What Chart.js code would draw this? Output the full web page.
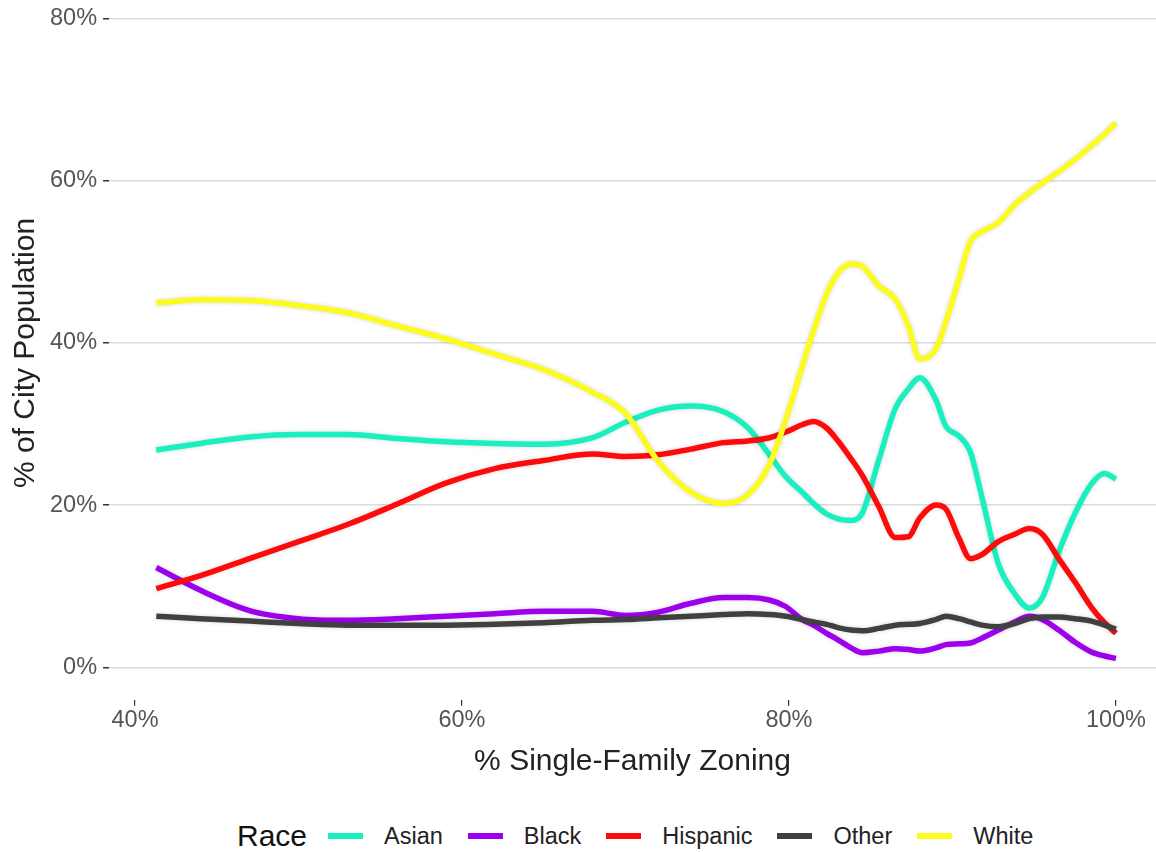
<!DOCTYPE html>
<html>
<head>
<meta charset="utf-8">
<script src="https://cdn.jsdelivr.net/npm/chart.js@4"></script>
<style>
  body { margin: 0; background: #fff; font-family: "Liberation Sans", Arial, sans-serif; overflow: hidden; }
  #wrap { position: absolute; left: 0; top: -14px; width: 1156px; height: 804px; }
  #legend { position: absolute; left: 237px; top: 818px; display: flex; align-items: center; height: 36px; }
  #legend .title { font-size: 30px; color: #111; margin-right: 21px; }
  #legend .item { display: flex; align-items: center; margin-right: 25px; font-size: 23.5px; color: #222; }
  #legend .swatch { width: 35px; height: 6px; margin-right: 21px; }
</style>
</head>
<body>
<div id="wrap"><canvas id="chart" width="1156" height="804"></canvas></div>
<div id="legend"></div>
<script>
// % single-family zoning (x) shared by every series
const zoning = [41.3, 44, 47, 50, 53, 56, 59, 62, 65, 68, 70, 72, 74, 76, 77.5, 78.8, 79.8, 80.8, 81.5, 82.3,
  83, 83.8, 84.5, 85.5, 86.5, 87.3, 88, 89, 89.6, 90.4, 91.1, 91.8, 92.8, 93.8, 94.7, 95.5, 96.5, 97.5, 98.5, 99.3, 100];

const asian = [26.8, 27.6, 28.4, 28.7, 28.7, 28.2, 27.8, 27.6, 27.5, 28.3, 30.2, 31.7, 32.2, 31.5, 29.5, 26.2, 23.5, 21.6, 20.2, 18.9,
  18.3, 18.1, 19.1, 25.6, 31.9, 34.3, 35.7, 32.9, 29.7, 28.5, 26.5, 21.0, 12.8, 9.1, 7.3, 8.6, 14.2, 19.0, 22.6, 23.9, 23.2];
const black = [12.3, 9.5, 7.0, 6.0, 5.8, 6.0, 6.3, 6.6, 6.9, 6.9, 6.4, 6.8, 7.9, 8.6, 8.6, 8.3, 7.5, 5.9, 5.2, 4.2,
  3.4, 2.4, 1.8, 2.0, 2.3, 2.2, 2.0, 2.4, 2.8, 2.9, 3.0, 3.6, 4.6, 5.6, 6.3, 5.9, 4.6, 3.1, 1.9, 1.4, 1.1];
const hispanic = [9.7, 11.3, 13.4, 15.5, 17.6, 20.1, 22.7, 24.5, 25.5, 26.3, 26.0, 26.2, 26.9, 27.7, 27.9, 28.3, 29.0, 29.9, 30.3, 29.5,
  27.9, 25.7, 23.6, 19.8, 16.0, 16.1, 18.4, 20.0, 19.5, 15.9, 13.4, 13.9, 15.5, 16.4, 17.1, 16.4, 13.4, 10.5, 7.4, 5.5, 4.2];
const other = [6.3, 6.0, 5.7, 5.4, 5.2, 5.2, 5.2, 5.3, 5.5, 5.8, 5.9, 6.1, 6.3, 6.5, 6.6, 6.5, 6.3, 5.9, 5.6, 5.3,
  4.9, 4.6, 4.5, 4.8, 5.2, 5.3, 5.4, 5.9, 6.3, 6.0, 5.6, 5.2, 5.0, 5.4, 6.0, 6.2, 6.2, 6.0, 5.7, 5.2, 4.7];
const white = [44.9, 45.3, 45.2, 44.6, 43.7, 42.1, 40.5, 38.6, 36.7, 33.9, 31.3, 25.4, 21.6, 20.2, 21.3, 25.0, 30.5, 37.0, 41.5, 46.0,
  48.6, 49.7, 49.4, 47.0, 45.4, 42.1, 38.0, 39.3, 42.6, 47.9, 52.5, 53.7, 54.8, 57.0, 58.5, 59.7, 61.1, 62.6, 64.3, 65.7, 67.1];

const races = ["Asian", "Black", "Hispanic", "Other", "White"];
const colors = ["#19f0bf", "#9d00ec", "#ff0a0a", "#404040", "#fbfb1e"];
const values = [asian, black, hispanic, other, white];

const xTicks = [40, 60, 80, 100];
const yTicks = [0, 20, 40, 60, 80];

// soft light halo round each line
const halo = {
  id: "halo",
  beforeDatasetDraw(chart) {
    chart.ctx.save();
    chart.ctx.shadowColor = "rgba(0,0,0,0.16)";
    chart.ctx.shadowBlur = 4;
  },
  afterDatasetDraw(chart) {
    chart.ctx.restore();
  }
};

const tickFont = { family: "'Liberation Sans', Arial, sans-serif", size: 23.5 };
const titleFont = { family: "'Liberation Sans', Arial, sans-serif", size: 30 };

new Chart(document.getElementById("chart"), {
  type: "line",
  data: {
    datasets: races.map((race, i) => ({
      label: race,
      data: zoning.map((x, j) => ({ x, y: values[i][j] })),
      borderColor: colors[i],
      backgroundColor: colors[i],
      borderWidth: 5.5,
      pointRadius: 0,
      cubicInterpolationMode: "monotone",
      order: races.length - i
    }))
  },
  options: {
    responsive: false,
    animation: false,
    layout: { padding: { left: 8, top: 5, right: 0, bottom: 10 } },
    plugins: { legend: { display: false }, tooltip: { enabled: false } },
    scales: {
      x: {
        type: "linear",
        min: 38.41,
        max: 102.45,
        afterBuildTicks: s => { s.ticks = xTicks.map(v => ({ value: v })); },
        ticks: { font: tickFont, color: "#555", padding: 1, maxRotation: 0, callback: v => v + "%" },
        grid: { drawOnChartArea: false, drawTicks: true, tickLength: 6, tickColor: "#333", lineWidth: 1.2 },
        border: { display: false },
        title: { display: true, text: "% Single-Family Zoning", font: titleFont, color: "#222", padding: { top: 8, bottom: 0 } }
      },
      y: {
        min: -4,
        max: 81.5,
        afterBuildTicks: s => { s.ticks = yTicks.map(v => ({ value: v })); },
        ticks: { font: tickFont, color: "#555", padding: 6, callback: v => v + "%" },
        grid: { color: "#dcdcdc", lineWidth: 1.5, drawTicks: true, tickLength: 6, tickColor: "#333" },
        border: { display: false },
        title: { display: true, text: "% of City Population", font: titleFont, color: "#222", padding: { top: 0, bottom: 0 } }
      }
    }
  },
  plugins: [halo]
});

// legend row, same look as the ggplot guide
const legendEl = document.getElementById("legend");
legendEl.innerHTML = `<span class="title">Race</span>` + races.map((race, i) => `
  <span class="item"><span class="swatch" style="background:${colors[i]}"></span>${race}</span>
`).join("");
</script>
</body>
</html>
